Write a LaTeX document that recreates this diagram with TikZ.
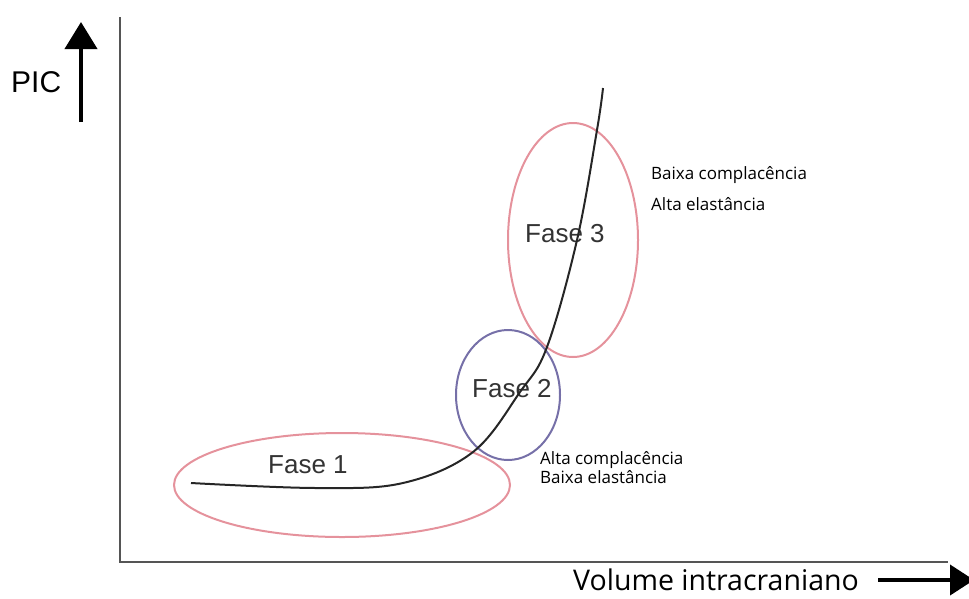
\documentclass[tikz,border=0pt]{standalone}
\usepackage{fontspec}
\setmainfont{Open Sans}
\newfontfamily\arialfont{Liberation Sans}
\usetikzlibrary{arrows.meta}
\definecolor{fasepink}{RGB}{229,146,156}
\definecolor{faseblue}{RGB}{118,112,168}
\definecolor{axisgray}{RGB}{85,85,85}

\begin{document}
\begin{tikzpicture}
	[x=1pt,y=-1pt,every node/.style={inner sep=0pt},
	 fase/.style={anchor=base west,font=\arialfont\fontsize{26}{30}\selectfont,text=black!80},
	 note/.style={anchor=base west,font=\fontsize{17}{20}\selectfont}]
	\useasboundingbox (0,0) rectangle (969,598);
	
	% axes
	\coordinate (o) at (120,562);
	\coordinate (ytop) at (120,17);
	\coordinate (xend) at (948,562);
	\draw[axisgray,line width=2pt] (ytop) -- (o) -- (xend);
	
	% axis labels
	\node[font=\arialfont\fontsize{30}{36}\selectfont,anchor=base west] (pic) at (11,92) {PIC};
	\coordinate (p1) at (81,122);
	\coordinate (p2) at (81,22);
	\draw[line width=4pt,-{Triangle[width=32pt,length=27pt]}] (p1) -- (p2);
	
	\node[anchor=base west,font=\fontsize{28.5}{32}\selectfont] (vol) at (573,590) {Volume intracraniano};
	\coordinate (v1) at (878,580);
	\coordinate (v2) at (974,580);
	\draw[line width=4pt,-{Triangle[width=30pt,length=24pt]}] (v1) -- (v2);
	
	% phases
	\draw[fasepink,line width=2pt] (342,485) ellipse [x radius=168pt, y radius=52pt];
	\draw[faseblue,line width=2pt] (508,395) ellipse [x radius=52pt, y radius=65pt];
	\draw[fasepink,line width=2pt] (573,240) ellipse [x radius=65pt, y radius=117pt];
	
	\node[fase] (f1) at (268,473) {Fase 1};
	\node[fase] (f2) at (472,397) {Fase 2};
	\node[fase] (f3) at (525,242) {Fase 3};
	
	\node[note] (n1) at (651,179) {Baixa complacência};
	\node[note] (n2) at (651,210) {Alta elastância};
	\node[note] (n3) at (540,464) {Alta complacência};
	\node[note] (n4) at (540,483) {Baixa elastância};
	
	% curve
	\draw[black!85,line width=2pt] plot[smooth,tension=0.6] coordinates
		{(191,483) (317,488) (403,483) (473,452) (520,392) (547,347) (577,240) (597,130) (603,88)};
\end{tikzpicture}
\end{document}
